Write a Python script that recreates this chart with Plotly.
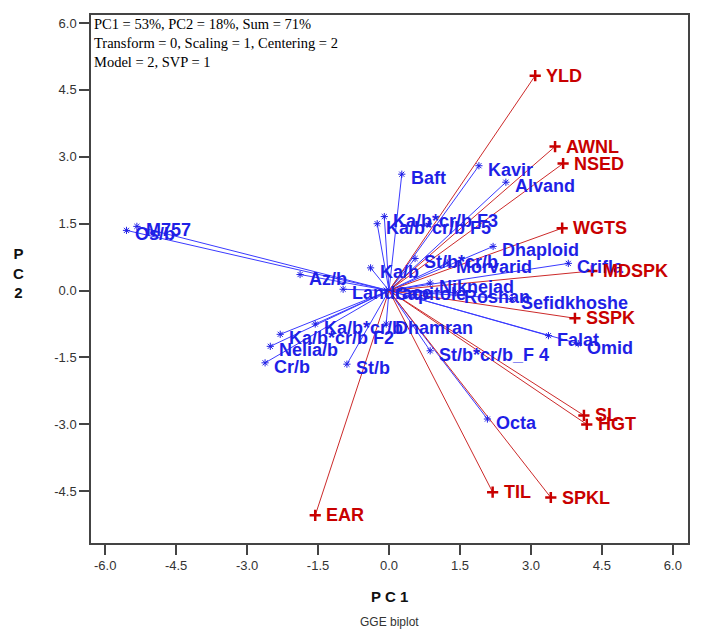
import plotly.graph_objects as go

# Genotypes (blue "*")
geno_names = ["Baft", "Kavir", "Alvand", "Ka/b*cr/b F3", "Ka/b*cr/b F5", "Ka/b",
              "St/b*cr/b", "Morvarid", "Dhaploid", "Crifla", "Niknejad", "Roshan",
              "Sefidkhoshe", "Falat", "Omid", "St/b*cr/b_F 4", "Octa", "Dhamran",
              "Ka/b*cr/b", "Ka/b*cr/b F2", "Nelia/b", "Cr/b", "St/b", "Az/b",
              "M757", "Os/b", "Landrace", "Capitole"]
geno_x = [0.27, 1.90, 2.47, -0.10, -0.25, -0.39,
          0.55, 1.23, 2.20, 3.79, 0.87, 1.40,
          2.60, 3.37, 4.00, 0.87, 2.08, -0.06,
          -1.56, -2.30, -2.51, -2.62, -0.89, -1.88,
          -5.33, -5.55, -0.97, -0.06]
geno_y = [2.61, 2.80, 2.43, 1.66, 1.50, 0.51,
          0.72, 0.62, 0.99, 0.61, 0.17, -0.05,
          -0.19, -1.01, -1.19, -1.35, -2.88, -0.75,
          -0.75, -0.98, -1.25, -1.62, -1.65, 0.36,
          1.44, 1.35, 0.03, 0.01]

# Traits (red "+")
trait_names = ["YLD", "AWNL", "NSED", "WGTS", "MDSPK", "SSPK", "SL", "HGT",
               "TIL", "SPKL", "EAR"]
trait_x = [3.09, 3.51, 3.68, 3.66, 4.29, 3.93, 4.12, 4.18, 2.19, 3.42, -1.56]
trait_y = [4.82, 3.23, 2.85, 1.40, 0.44, -0.62, -2.80, -3.00, -4.52, -4.64, -5.04]

x_ticks = [-6.0, -4.5, -3.0, -1.5, 0.0, 1.5, 3.0, 4.5, 6.0]
y_ticks = [-4.5, -3.0, -1.5, 0.0, 1.5, 3.0, 4.5, 6.0]

info_lines = ["PC1 = 53%, PC2 = 18%, Sum = 71%",
              "Transform = 0, Scaling = 1, Centering = 2",
              "Model = 2, SVP = 1"]

BLUE = "#1f1fe6"
BLUE_LINE = "#3a3aff"
RED = "#c80000"
RED_LINE = "#cc2a2a"


def rays(xs, ys):
    lx, ly = [], []
    for a, b in zip(xs, ys):
        lx += [0, a, None]
        ly += [0, b, None]
    return lx, ly


fig = go.Figure()

bx, by = rays(geno_x, geno_y)
fig.add_trace(go.Scatter(x=bx, y=by, mode="lines",
                         line=dict(color=BLUE_LINE, width=1), hoverinfo="skip"))
rx, ry = rays(trait_x, trait_y)
fig.add_trace(go.Scatter(x=rx, y=ry, mode="lines",
                         line=dict(color=RED_LINE, width=1), hoverinfo="skip"))

fig.add_trace(go.Scatter(x=geno_x, y=geno_y, mode="markers",
                         marker=dict(symbol="asterisk-open", size=6, color=BLUE,
                                     line=dict(color=BLUE, width=1)),
                         hoverinfo="skip"))
fig.add_trace(go.Scatter(x=trait_x, y=trait_y, mode="markers",
                         marker=dict(symbol="cross-thin-open", size=8, color=RED,
                                     line=dict(color=RED, width=2.5)),
                         hoverinfo="skip"))

label_font = dict(family="Liberation Sans, Arial, sans-serif", size=18, weight="bold")

for n, x, y in zip(geno_names, geno_x, geno_y):
    fig.add_annotation(x=x, y=y, xref="x", yref="y", text=n, showarrow=False,
                       xanchor="left", yanchor="middle", xshift=7, yshift=-4,
                       font=dict(color=BLUE, **label_font))
for n, x, y in zip(trait_names, trait_x, trait_y):
    fig.add_annotation(x=x, y=y, xref="x", yref="y", text=n, showarrow=False,
                       xanchor="left", yanchor="middle", xshift=9, yshift=0,
                       font=dict(color=RED, **label_font))

# info box text
fig.add_annotation(x=0, y=1, xref="paper", yref="paper", xanchor="left", yanchor="top",
                   xshift=1, yshift=1, showarrow=False, align="left",
                   text="<br>".join(info_lines),
                   font=dict(family="Liberation Serif, Times New Roman, serif", size=14.5,
                             color="black"))

# axis titles
fig.add_annotation(x=0.5, y=-0.102, xref="paper", yref="paper", showarrow=False,
                   text="P C 1", xanchor="center", yanchor="middle",
                   font=dict(family="Liberation Sans, Arial", size=15, weight="bold",
                             color="#111"))
fig.add_annotation(x=0.5, y=-0.149, xref="paper", yref="paper", showarrow=False,
                   text="GGE biplot", xanchor="center", yanchor="middle",
                   font=dict(family="Liberation Sans, Arial", size=12, color="#333"))
fig.add_annotation(x=-0.121, y=0.512, xref="paper", yref="paper", showarrow=False,
                   text="P<br>C<br>2", xanchor="center", yanchor="middle",
                   font=dict(family="Liberation Sans, Arial", size=15, weight="bold",
                             color="#111"))

axis_common = dict(showgrid=False, zeroline=False, showline=True, linecolor="#444",
                   linewidth=1.5, mirror=True, ticks="outside", ticklen=10,
                   tickcolor="#444", tickwidth=1.5,
                   tickfont=dict(family="Liberation Sans, Arial", size=13, color="#333"))

# page body adds an 8px offset, so the figure is sized/margined to compensate
fig.update_layout(
    width=696, height=622,
    margin=dict(l=83, r=16, t=5, b=87),
    paper_bgcolor="white", plot_bgcolor="white",
    showlegend=False,
    xaxis=dict(range=[-6.3, 6.32], tickvals=x_ticks,
               ticktext=[f"{v:.1f}" for v in x_ticks], **axis_common),
    yaxis=dict(range=[-5.66, 6.18], tickvals=y_ticks,
               ticktext=[f"{v:.1f}" for v in y_ticks], **axis_common),
)

fig.write_html("out.html")
